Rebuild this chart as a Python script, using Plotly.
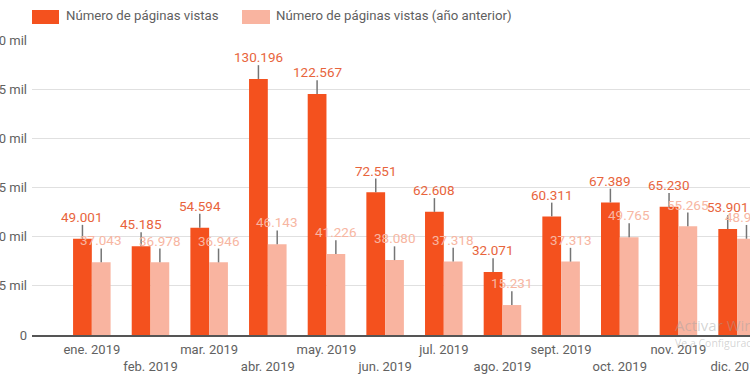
import plotly.graph_objects as go

months = ["ene. 2019", "feb. 2019", "mar. 2019", "abr. 2019", "may. 2019", "jun. 2019",
          "jul. 2019", "ago. 2019", "sept. 2019", "oct. 2019", "nov. 2019", "dic. 2019"]
views = [49001, 45185, 54594, 130196, 122567, 72551, 62608, 32071, 60311, 67389, 65230, 53901]
views_prev = [37043, 36978, 36946, 46143, 41226, 38080, 37318, 15231, 37313, 49765, 55265, 48950]
err = 7000
ytickvals = [0, 25000, 50000, 75000, 100000, 125000, 150000]
yticktext = ["0", "25 mil", "50 mil", "75 mil", "100 mil", "125 mil", "150 mil"]
name_a = "Número de páginas vistas"
name_b = "Número de páginas vistas (año anterior)"

C_DARK = "#f4511e"
C_LIGHT = "#f9b4a0"
C_DARK_TXT = "#e8643c"
C_LIGHT_TXT = "#f7b6a2"
FONT = "Roboto"


def fmt(v):
    return f"{v:,}".replace(",", ".")


fig = go.Figure()
for name, vals, col in [(name_a, views, C_DARK), (name_b, views_prev, C_LIGHT)]:
    fig.add_trace(go.Bar(
        x=months, y=vals, name=name, marker=dict(color=col, line=dict(width=0)),
        error_y=dict(type="data", symmetric=False, array=[err] * len(vals),
                     arrayminus=[0] * len(vals), color="#757575", thickness=1.5, width=0),
        showlegend=False,
    ))

annotations = []
for vals, col, shift in [(views, C_DARK_TXT, -9.4), (views_prev, C_LIGHT_TXT, 9.4)]:
    for m, v in zip(months, vals):
        annotations.append(dict(x=m, y=v + err, xref="x", yref="y", text=fmt(v),
                                showarrow=False, yanchor="bottom", xshift=shift, yshift=-2,
                                font=dict(family=FONT, size=13.5, color=col)))

# legend (manual)
shapes = [
    dict(type="rect", xref="paper", yref="paper", x0=0, x1=27 / 718, y0=1 + 16 / 295, y1=1 + 30 / 295,
         fillcolor=C_DARK, line=dict(width=0)),
    dict(type="rect", xref="paper", yref="paper", x0=210 / 718, x1=238 / 718, y0=1 + 16 / 295,
         y1=1 + 30 / 295, fillcolor=C_LIGHT, line=dict(width=0)),
]
annotations += [
    dict(x=32 / 718, y=1 + 24 / 295, xref="paper", yref="paper", text=name_a, showarrow=False,
         xanchor="left", yanchor="middle", font=dict(family=FONT, size=13.2, color="#5f5f5f")),
    dict(x=242 / 718, y=1 + 24 / 295, xref="paper", yref="paper", text=name_b, showarrow=False,
         xanchor="left", yanchor="middle", font=dict(family=FONT, size=13.2, color="#5f5f5f")),
    dict(x=641 / 718, y=10 / 295, xref="paper", yref="paper", text="Activar Windows", showarrow=False,
         xanchor="left", yanchor="middle", font=dict(family="Open Sans", size=15, color="rgba(160,160,160,0.45)")),
    dict(x=641 / 718, y=-8 / 295, xref="paper", yref="paper", text="Ve a Configuración para activar Windows.",
         showarrow=False, xanchor="left", yanchor="middle",
         font=dict(family="Open Sans", size=10.5, color="rgba(160,160,160,0.45)")),
]

ticktext = [m if i % 2 == 0 else "<br>" + m for i, m in enumerate(months)]

fig.update_layout(
    width=750, height=375,
    margin=dict(l=32, r=0, t=40, b=40, autoexpand=False),
    barmode="group", bargap=0.36, bargroupgap=0,
    plot_bgcolor="white", paper_bgcolor="white",
    font=dict(family=FONT, size=13, color="#616161"),
    shapes=shapes, annotations=annotations,
    xaxis=dict(range=[-1.02, 11.22], tickvals=months, ticktext=ticktext, showgrid=False,
               showline=True, linecolor="#555555", linewidth=1.5, ticks="", tickangle=0,
               automargin=False, ticklabelstandoff=2,
               tickfont=dict(family=FONT, size=13, color="#616161")),
    yaxis=dict(range=[0, 150000], tickvals=ytickvals, ticktext=yticktext, showgrid=True,
               gridcolor="#e0e0e0", gridwidth=1, zeroline=False, showline=False, ticks="",
               automargin=False,
               ticklabelstandoff=4, tickfont=dict(family=FONT, size=13, color="#616161")),
)

fig.write_html("out.html", config={"displayModeBar": False},
               post_script="document.body.style.margin='0';document.body.style.overflow='hidden';")
